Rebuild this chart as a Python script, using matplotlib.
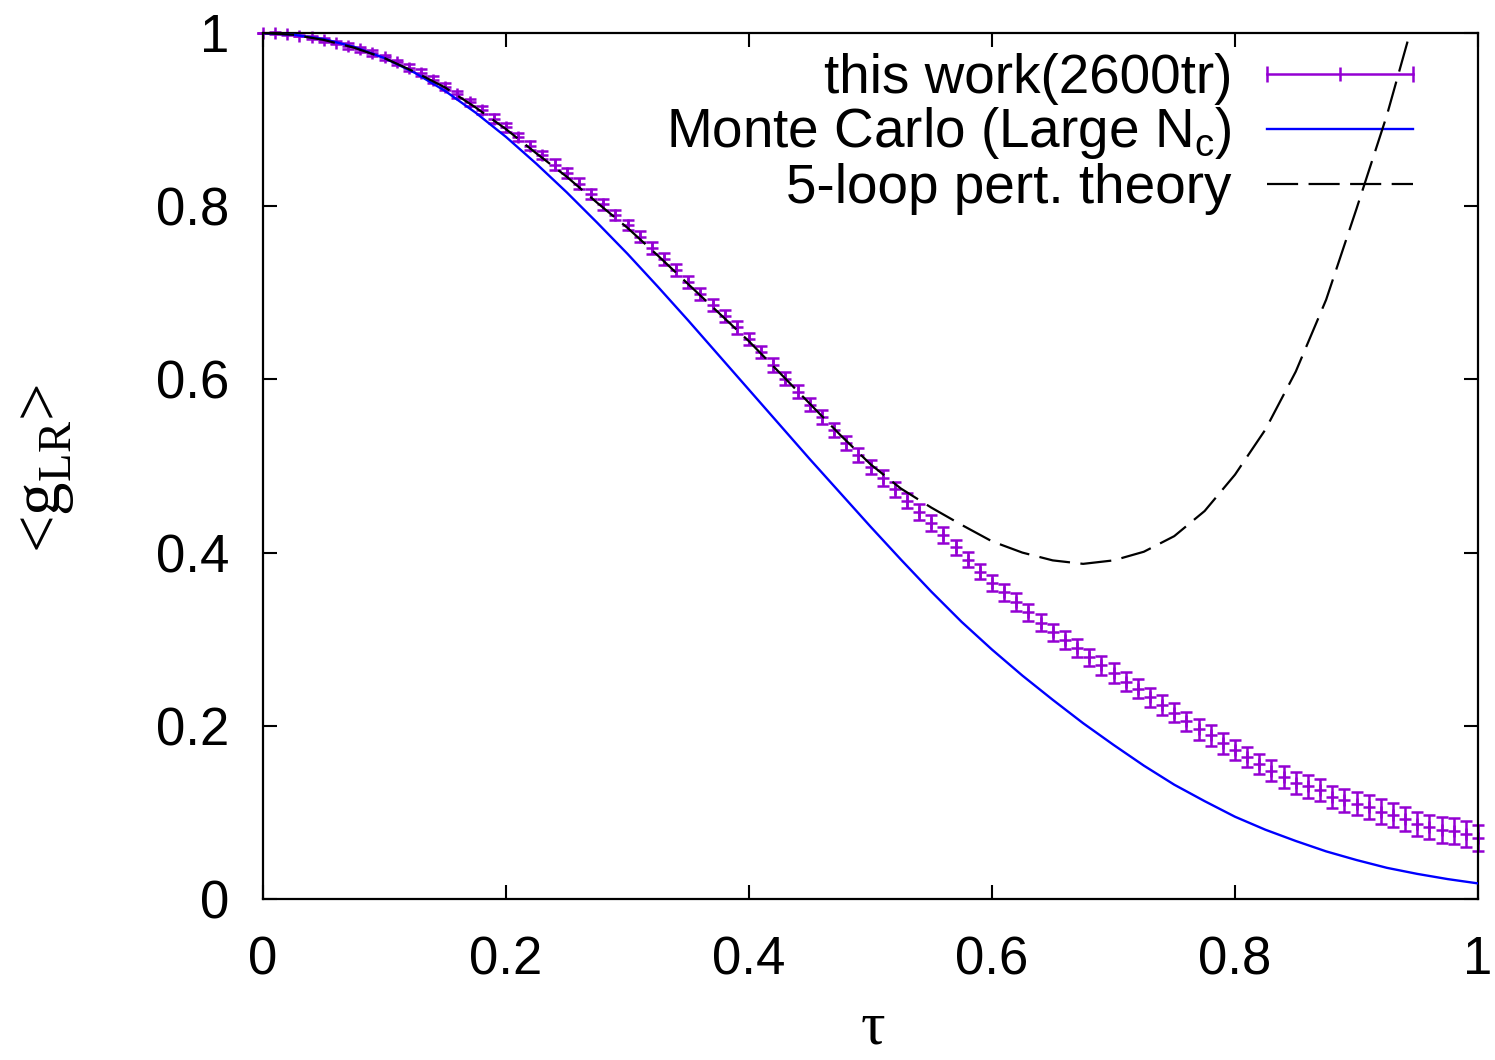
import matplotlib
matplotlib.use('Agg')
import matplotlib.pyplot as plt

plt.rcParams['font.family'] = 'Liberation Sans'
plt.rcParams['mathtext.fontset'] = 'custom'
plt.rcParams['mathtext.rm'] = 'Liberation Serif'
plt.rcParams['mathtext.sf'] = 'Liberation Sans'

# lattice data, tau = 0 .. 1 step 0.01
tau = [i / 100 for i in range(101)]
g_lr = [1.000, 1.000, 0.999, 0.997, 0.995, 0.992, 0.989, 0.985, 0.981, 0.977,
        0.972, 0.966, 0.960, 0.954, 0.946, 0.938, 0.929, 0.920, 0.911, 0.901,
        0.891, 0.880, 0.870, 0.859, 0.848, 0.838, 0.826, 0.814, 0.802, 0.790,
        0.778, 0.765, 0.752, 0.739, 0.726, 0.712, 0.699, 0.686, 0.673, 0.660,
        0.647, 0.632, 0.617, 0.601, 0.586, 0.571, 0.557, 0.542, 0.527, 0.513,
        0.499, 0.486, 0.473, 0.460, 0.447, 0.434, 0.420, 0.406, 0.392, 0.378,
        0.365, 0.354, 0.343, 0.331, 0.319, 0.308, 0.299, 0.290, 0.279, 0.270,
        0.261, 0.251, 0.243, 0.233, 0.224, 0.215, 0.205, 0.196, 0.189, 0.180,
        0.172, 0.164, 0.156, 0.148, 0.141, 0.134, 0.130, 0.126, 0.118, 0.114,
        0.110, 0.106, 0.101, 0.097, 0.092, 0.087, 0.083, 0.080, 0.078, 0.075,
        0.070]
g_err = [0.000, 0.001, 0.001, 0.001, 0.002, 0.002, 0.002, 0.003, 0.003, 0.003,
         0.003, 0.003, 0.004, 0.004, 0.004, 0.004, 0.004, 0.004, 0.005, 0.005,
         0.005, 0.005, 0.005, 0.005, 0.006, 0.006, 0.006, 0.006, 0.006, 0.006,
         0.006, 0.006, 0.007, 0.007, 0.007, 0.007, 0.007, 0.007, 0.007, 0.007,
         0.007, 0.007, 0.008, 0.008, 0.008, 0.008, 0.008, 0.008, 0.008, 0.008,
         0.008, 0.009, 0.009, 0.009, 0.009, 0.009, 0.009, 0.009, 0.009, 0.009,
         0.009, 0.010, 0.010, 0.010, 0.010, 0.010, 0.010, 0.010, 0.010, 0.011,
         0.011, 0.011, 0.011, 0.011, 0.011, 0.011, 0.011, 0.012, 0.012, 0.012,
         0.012, 0.012, 0.012, 0.012, 0.013, 0.013, 0.013, 0.013, 0.013, 0.013,
         0.013, 0.014, 0.014, 0.014, 0.014, 0.014, 0.014, 0.015, 0.015, 0.015,
         0.015]

# Monte Carlo, large Nc
tau_mc = [i / 40 for i in range(41)]
g_mc = [1.000, 0.998, 0.993, 0.984, 0.971, 0.954, 0.933, 0.908, 0.880, 0.849,
        0.816, 0.781, 0.745, 0.707, 0.668, 0.628, 0.588, 0.548, 0.508, 0.469,
        0.430, 0.392, 0.355, 0.320, 0.288, 0.258, 0.230, 0.203, 0.178, 0.154,
        0.132, 0.113, 0.095, 0.080, 0.067, 0.055, 0.045, 0.036, 0.029, 0.023,
        0.018]

# 5-loop perturbation theory
tau_pt = [i / 40 for i in range(39)]
g_pt = [1.000, 0.998, 0.992, 0.983, 0.971, 0.955, 0.937, 0.914, 0.889, 0.861,
        0.834, 0.804, 0.775, 0.743, 0.710, 0.677, 0.644, 0.608, 0.572, 0.536,
        0.502, 0.474, 0.452, 0.432, 0.413, 0.400, 0.391, 0.387, 0.391, 0.401,
        0.419, 0.448, 0.490, 0.542, 0.609, 0.692, 0.797, 0.905, 1.030]

labels_leg = ['this work(2600tr)', r'Monte Carlo (Large N$_{\mathsf{c}}$)',
              '5-loop pert. theory']

purple = '#9400d3'
blue = '#0000ff'

fig = plt.figure(figsize=(14.95, 10.6), dpi=100)
ax = fig.add_axes([263 / 1495, 161 / 1060, 1215 / 1495, 866 / 1060])

ax.errorbar(tau, g_lr, yerr=g_err, fmt='+', color=purple, ms=9, mew=1.8,
            elinewidth=1.8, capsize=4.6, capthick=1.8, clip_on=False, zorder=2)
ax.plot(tau_mc, g_mc, color=blue, lw=1.7, zorder=3)
ax.plot(tau_pt, g_pt, color='black', lw=1.6, dashes=(14, 4.7), zorder=4)

ax.set_xlim(0, 1)
ax.set_ylim(0, 1)
ticks = [0, 0.2, 0.4, 0.6, 0.8, 1]
labels = ['0', '0.2', '0.4', '0.6', '0.8', '1']
ax.set_xticks(ticks)
ax.set_xticklabels(labels)
ax.set_yticks(ticks)
ax.set_yticklabels(labels)
ax.tick_params(direction='in', length=10, width=1.5, top=True, right=True,
               labelsize=38)
ax.tick_params(axis='x', pad=26)
ax.tick_params(axis='y', pad=24)
for s in ax.spines.values():
    s.set_linewidth(1.6)

fig.text(873 / 1495, 0.003, 'τ', family='Liberation Serif',
         fontsize=44, ha='center', va='bottom')
fig.text(45 / 1495, (1060 - 468) / 1060, r'<g$_{\mathrm{LR}}$>',
         family='Liberation Serif', fontsize=48, rotation=90,
         ha='center', va='center')

# key, gnuplot style: text right-aligned, sample on the right
tr = ax.transAxes
sx0, sx1, tx = 0.8263, 0.9465, 0.7975
line_y = [0.9527, 0.8891, 0.8256]
base_y = [0.9307, 0.8684, 0.8037]
for lab, by in zip(labels_leg, base_y):
    ax.text(tx, by, lab, transform=tr, ha='right', va='baseline', fontsize=39.5)

y0 = line_y[0]
ax.plot([sx0, sx1], [y0, y0], transform=tr, color=purple, lw=1.8)
ax.plot([sx0, sx1], [y0, y0], transform=tr, ls='none', marker='|', ms=12,
        mew=1.8, color=purple)
ax.plot([(sx0 + sx1) / 2], [y0], transform=tr, ls='none', marker='|', ms=10,
        mew=1.8, color=purple)
ax.plot([sx0, sx1], [line_y[1]] * 2, transform=tr, color=blue, lw=1.7)
ax.plot([sx0, sx1], [line_y[2]] * 2, transform=tr, color='black', lw=1.6,
        dashes=(14, 4.7))

fig.savefig('out.png', dpi=100)
